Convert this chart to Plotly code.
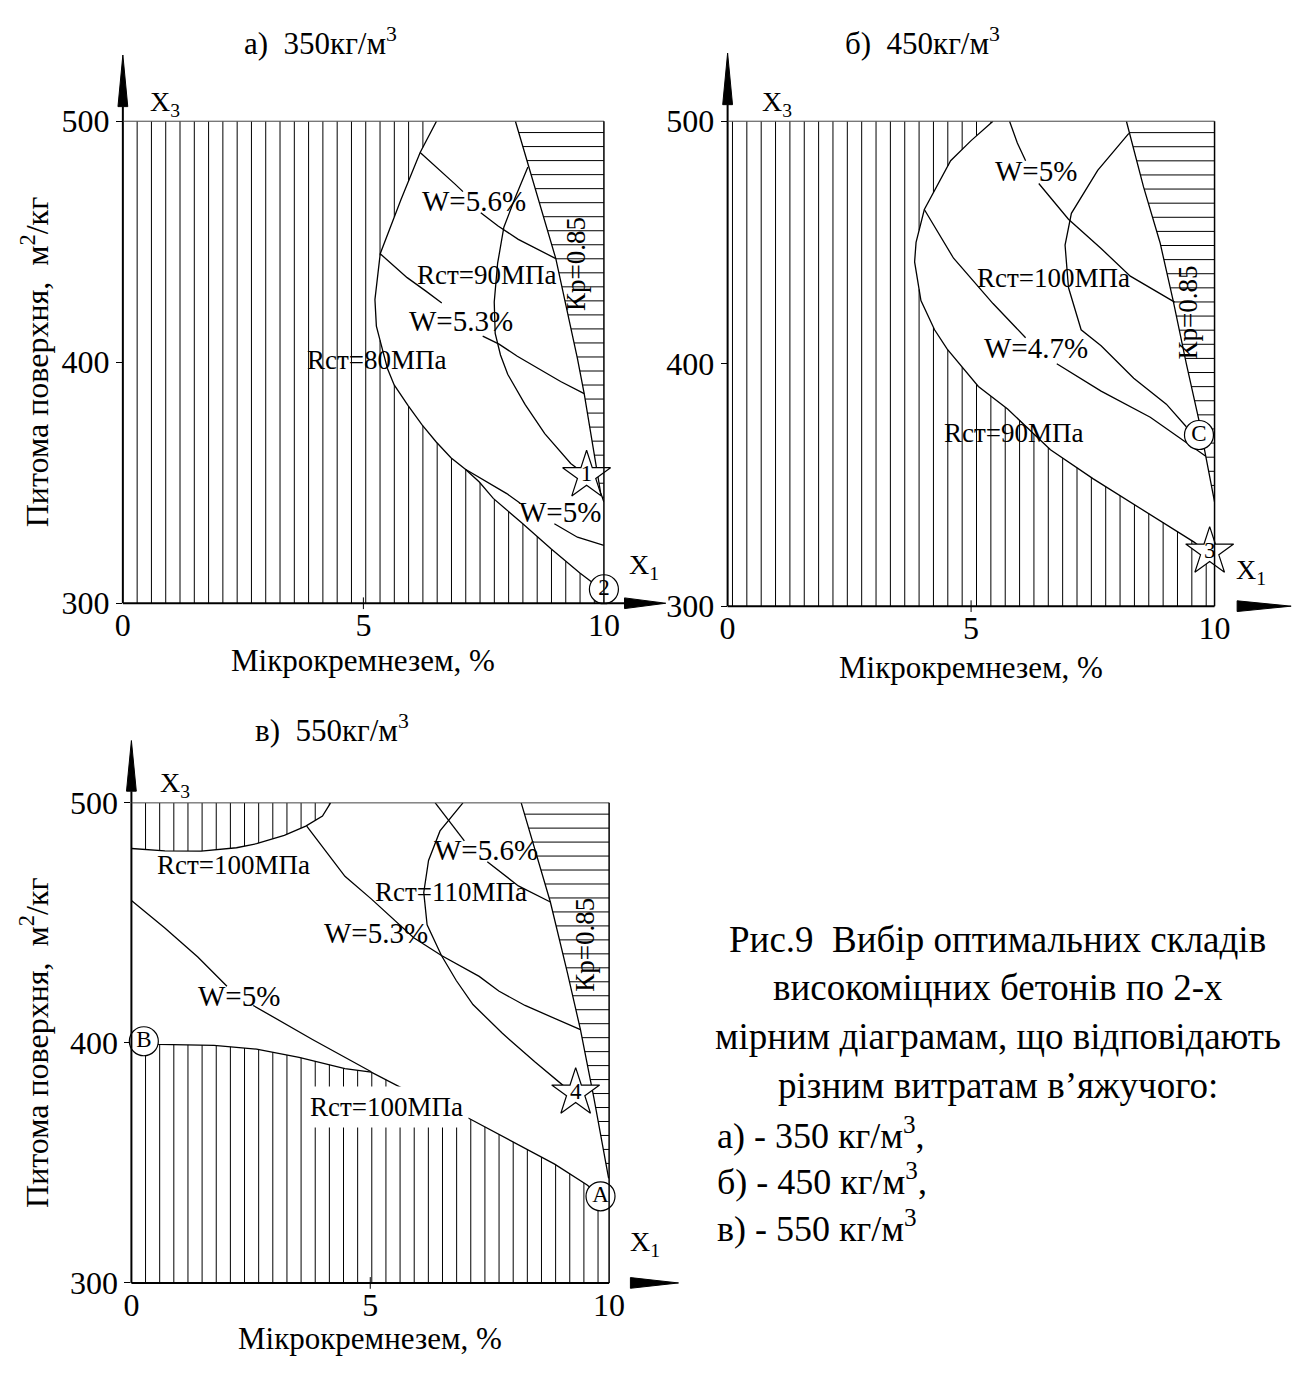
import plotly.graph_objects as go

W, H = 1314, 1373
FONT = "Liberation Serif, Times New Roman, serif"

# ======================= DATA =======================
# ---- panel а) 350 кг/м3 ----
a_r80_x = [6.52, 6.18, 5.78, 5.35, 5.24, 5.27, 5.36, 5.50, 5.64, 5.93, 6.22, 6.51, 6.82, 7.12, 7.41, 7.70, 8.29, 8.90, 9.50, 10.0]
a_r80_y = [500, 487, 467.4, 445, 426, 415, 408, 397.4, 390.6, 382, 374, 367, 360.4, 355.6, 350.3, 343.5, 333.4, 322.6, 312.5, 305]
a_kp_x = [8.16, 8.44, 9.0, 9.45, 9.59, 9.93, 10.0]
a_kp_y = [500, 481, 443, 401.5, 387, 346, 342]
a_r90_x = [8.42, 8.15, 7.92, 7.79, 7.72, 7.74, 7.85, 8.0, 8.36, 8.77, 9.31, 9.64]
a_r90_y = [481, 468, 456, 441, 425, 412, 403, 395, 382.5, 370.4, 358, 353]
a_w56_x = [6.18, 6.55, 6.90, 7.07, None, 7.44, 7.80, 8.22, 8.60, 9.0]
a_w56_y = [487, 480.5, 474, 470.8, None, 462, 456.5, 451, 447, 443]
a_w53_x = [5.35, 5.91, 6.30, 6.63, None, 7.48, 7.82, 8.20, 8.63, 9.10, 9.59]
a_w53_y = [445, 435.1, 429.5, 424.6, None, 410.8, 407.5, 402.5, 397.4, 392, 387]
a_w5_x = [7.12, 7.40, 7.68, 7.98, 8.26, None, 8.97, 9.45, 10.0]
a_w5_y = [355.6, 352.3, 349, 345.5, 341.5, None, 333, 327.4, 324]
a_pts = [("2", "circle", 10.0, 305.8), ("1", "star", 9.64, 353)]
a_labels = [("W=5.6%", 7.29, 466.9, 0), ("Rст=90МПа", 7.57, 436, 0), ("W=5.3%", 7.03, 417, 0),
            ("Rст=80МПа", 5.29, 401, 0), ("W=5%", 9.08, 337.8, 0), ("Кр=0.85", 9.43, 441, -90)]

# ---- panel б) 450 кг/м3 ----
b_r90_x = [5.45, 5.0, 4.58, 4.04, 3.87, 3.84, 3.97, 4.25, 4.51, 4.87, 5.15, 5.75, 6.63, 7.51, 8.10, 8.69, 9.58, 10.0]
b_r90_y = [500, 492, 483.7, 463.6, 450, 442, 426, 414, 406, 397.3, 390.6, 381.3, 364.5, 352.5, 345, 337.8, 326.4, 320]
b_kp_x = [8.19, 8.54, 8.88, 9.15, 9.42, 9.68, 9.82, 10.0]
b_kp_y = [500, 473, 450, 426, 400, 376.6, 361.8, 343]
b_r100_x = [8.24, 7.60, 7.06, 6.93, 7.00, 7.26, 7.67, 8.34, 9.01, 9.42]
b_r100_y = [495, 479.7, 462, 448.9, 431.4, 414, 407.4, 394, 383.3, 374]
b_w5_x = [5.79, 5.95, 6.12, None, 6.39, 7.0, 7.67, 8.27, 9.18]
b_w5_y = [500, 491, 483.7, None, 474.3, 459.6, 447.5, 436.1, 425.4]
b_w47_x = [4.04, 4.64, 5.45, 6.12, None, 6.76, 7.67, 8.68, 9.82]
b_w47_y = [463.6, 443.5, 424.8, 410.7, None, 400, 388.7, 377.9, 361.8]
b_pts = [("C", "circle", 9.68, 370.6), ("3", "star", 9.90, 322.4)]
b_labels = [("W=5%", 6.34, 479.3, 0), ("Rст=100МПа", 6.69, 435.4, 0), ("W=4.7%", 6.33, 406.4, 0),
            ("Rст=90МПа", 5.89, 371.6, 0), ("Кр=0.85", 9.45, 421, -90)]

# ---- panel в) 550 кг/м3 ----
c_top_x = [0, 0.7, 1.46, 2.2, 2.62, 3.2, 3.65, 4.0, 4.17]
c_top_y = [481, 480, 479.9, 481.3, 483, 486.5, 490.3, 494.5, 500]
c_low_x = [0, 0.57, 1.73, 2.62, 3.51, 4.47, 5.02, 6.05, 7.08, 7.97, 8.86, 9.54, 9.82]
c_low_y = [400, 399.4, 399, 397.4, 394, 389.3, 387.8, 377.2, 368.4, 359, 349.5, 340.8, 336.1]
c_kp_x = [8.16, 8.77, 9.13, 9.40, 9.68, 9.99]
c_kp_y = [500, 458.7, 429, 405.5, 377.2, 343.6]
c_r110_x = [6.94, 6.46, 6.22, 6.12, 6.19, 6.49, 6.80, 7.15, 7.76, 8.45, 9.06, 9.30]
c_r110_y = [500, 488.3, 476, 462.7, 449.2, 436.4, 426, 416, 404.1, 392, 381.9, 379.2]
c_w56_x = [6.36, 6.70, 6.97, None, 7.45, 8.10, 8.77]
c_w56_y = [500, 491, 484.2, None, 475.5, 465.4, 458.7]
c_w53_x = [3.67, 4.10, 4.47, 5.02, 5.45, 5.91, 6.49, 7.28, 7.69, 8.24, 9.40]
c_w53_y = [490.3, 479, 469.4, 460, 452, 443.8, 436.4, 427.7, 421.6, 415.6, 405.5]
c_w5_x = [0, 0.70, 1.39, 2.0, None, 2.55, 3.79, 5.02]
c_w5_y = [459.3, 447.9, 435.8, 423.6, None, 415.6, 401.4, 388]
c_pts = [("B", "circle", 0.26, 400.7), ("A", "circle", 9.82, 336.1), ("4", "star", 9.30, 379.2)]
c_labels = [("Rст=100МПа", 2.13, 474.1, 0), ("W=5.6%", 7.42, 480.2, 0), ("Rст=110МПа", 6.68, 462.7, 0),
            ("W=5.3%", 5.13, 445.9, 0), ("W=5%", 2.26, 419.6, 0), ("Кр=0.85", 9.49, 440.8, -90)]
c_boxed_label = ("Rст=100МПа", 5.35, 373.5)

titles = ["а)  350кг/м<sup>3</sup>", "б)  450кг/м<sup>3</sup>", "в)  550кг/м<sup>3</sup>"]
x_title = "Мікрокремнезем, %"
y_title = "Питома поверхня,  м<sup>2</sup>/кг"
x_ticks = [0, 5, 10]
y_ticks = [300, 400, 500]
caption_center = ["Рис.9  Вибір оптимальних складів", "високоміцних бетонів по 2-х",
                  "мірним діаграмам, що відповідають", "різним витратам в’яжучого:"]
caption_left = ["а) - 350 кг/м<sup>3</sup>,", "б) - 450 кг/м<sup>3</sup>,", "в) - 550 кг/м<sup>3</sup>"]

# ======================= helpers =======================
def vhatch(px, py, xs):
    X, Y = [], []
    n = len(px)
    for x in xs:
        ys = []
        for i in range(n):
            x1, y1 = px[i], py[i]
            x2, y2 = px[(i + 1) % n], py[(i + 1) % n]
            if (x1 <= x < x2) or (x2 <= x < x1):
                t = (x - x1) / (x2 - x1)
                ys.append(y1 + t * (y2 - y1))
        ys.sort()
        for j in range(0, len(ys) - 1, 2):
            X += [x, x, None]
            Y += [ys[j], ys[j + 1], None]
    return X, Y


def hhatch(px, py, ys):
    X, Y = [], []
    n = len(px)
    for y in ys:
        xs = []
        for i in range(n):
            x1, y1 = px[i], py[i]
            x2, y2 = px[(i + 1) % n], py[(i + 1) % n]
            if (y1 <= y < y2) or (y2 <= y < y1):
                t = (y - y1) / (y2 - y1)
                xs.append(x1 + t * (x2 - x1))
        xs.sort()
        for j in range(0, len(xs) - 1, 2):
            X += [xs[j], xs[j + 1], None]
            Y += [y, y, None]
    return X, Y


def P(px, py):
    return px / W, 1 - py / H


fig = go.Figure()

# panel boxes in pixels: left, right, top, bottom
boxes = [(117, 607, 106, 601), (733, 1229, 106, 604), (125.7, 612.3, 806, 1299)]
axes = [("x", "y"), ("x2", "y2"), ("x3", "y3")]

LINE = dict(color="black", width=1.3)
HATCH = dict(color="black", width=1)


def add_line(xs, ys, ax, line=LINE):
    fig.add_trace(go.Scatter(x=xs, y=ys, mode="lines", line=line, xaxis=ax[0], yaxis=ax[1],
                             hoverinfo="skip", showlegend=False))


hy = [495.3 - 5.82 * k for k in range(0, 40) if 495.3 - 5.82 * k > 300]

# ----- panel a -----
ax = axes[0]
X, Y = vhatch([0, 0] + a_r80_x + [10], [300, 500] + a_r80_y + [300], [0.297 * k for k in range(1, 34)])
add_line(X, Y, ax, HATCH)
X, Y = hhatch(a_kp_x + [10], a_kp_y + [500], hy)
add_line(X, Y, ax, HATCH)
for xs, ys in [(a_r80_x, a_r80_y), (a_kp_x, a_kp_y), (a_r90_x, a_r90_y), (a_w56_x, a_w56_y),
               (a_w53_x, a_w53_y), (a_w5_x, a_w5_y)]:
    add_line(xs, ys, ax)

# ----- panel b -----
ax = axes[1]
X, Y = vhatch([0, 0] + b_r90_x + [10], [300, 500] + b_r90_y + [300], [0.1 + 0.2948 * k for k in range(0, 34)])
add_line(X, Y, ax, HATCH)
X, Y = hhatch(b_kp_x + [10], b_kp_y + [500], hy)
add_line(X, Y, ax, HATCH)
for xs, ys in [(b_r90_x, b_r90_y), (b_kp_x, b_kp_y), (b_r100_x, b_r100_y), (b_w5_x, b_w5_y),
               (b_w47_x, b_w47_y)]:
    add_line(xs, ys, ax)

# ----- panel c -----
ax = axes[2]
vx = [0.296 * k for k in range(1, 34)]
X, Y = vhatch(c_top_x + [0], c_top_y + [500], vx)
add_line(X, Y, ax, HATCH)
X, Y = vhatch([0] + c_low_x + [10, 10], [300] + c_low_y + [335, 300], vx)
add_line(X, Y, ax, HATCH)
X, Y = hhatch(c_kp_x + [10, 10], c_kp_y + [343.6, 500], hy)
add_line(X, Y, ax, HATCH)
for xs, ys in [(c_top_x, c_top_y), (c_low_x, c_low_y), (c_kp_x, c_kp_y), (c_r110_x, c_r110_y),
               (c_w56_x, c_w56_y), (c_w53_x, c_w53_y), (c_w5_x, c_w5_y)]:
    add_line(xs, ys, ax)

# ----- point markers -----
for pts, ax in [(a_pts, axes[0]), (b_pts, axes[1]), (c_pts, axes[2])]:
    for txt, sym, x, y in pts:
        fig.add_trace(go.Scatter(
            x=[x], y=[y], mode="markers+text", text=[txt], textposition="middle center",
            textfont=dict(family=FONT, size=23, color="black"),
            marker=dict(symbol=sym, size=29 if sym == "circle" else 36, color="white",
                        line=dict(color="black", width=1.2)),
            cliponaxis=False, xaxis=ax[0], yaxis=ax[1], hoverinfo="skip", showlegend=False))

# ----- annotations -----
ann = []
for labels, ax in [(a_labels, axes[0]), (b_labels, axes[1]), (c_labels, axes[2])]:
    for txt, x, y, ang in labels:
        size = 29 if txt.startswith("W") else 27
        ann.append(dict(text=txt, x=x, y=y, xref=ax[0], yref=ax[1], showarrow=False,
                        textangle=ang, font=dict(family=FONT, size=size, color="black"),
                        xanchor="center", yanchor="middle"))
txt, x, y = c_boxed_label
ann.append(dict(text=txt, x=x, y=y, xref="x3", yref="y3", showarrow=False, bgcolor="white",
                borderpad=5, font=dict(family=FONT, size=27, color="black"),
                xanchor="center", yanchor="middle"))

title_pos = [(318, 24), (932, 24), (330, 730)]
xt_pos = [(362, 660), (981, 667), (369, 1356)]
yt_pos = [(27, 353), (None, None), (27, 1052)]
x3_pos = [(160, 88), (783, 88), (170, 787)]
x1_pos = [(648, 563), (1266, 568), (649, 1258)]
for i in range(3):
    px, py = P(*title_pos[i])
    ann.append(dict(text=titles[i], x=px, y=py, xref="paper", yref="paper", showarrow=False,
                    font=dict(family=FONT, size=31, color="black"), xanchor="center", yanchor="middle"))
    px, py = P(*xt_pos[i])
    ann.append(dict(text=x_title, x=px, y=py, xref="paper", yref="paper", showarrow=False,
                    font=dict(family=FONT, size=31, color="black"), xanchor="center", yanchor="middle"))
    if yt_pos[i][0] is not None:
        px, py = P(*yt_pos[i])
        ann.append(dict(text=y_title, x=px, y=py, xref="paper", yref="paper", showarrow=False,
                        textangle=-90, font=dict(family=FONT, size=32, color="black"),
                        xanchor="center", yanchor="middle"))
    px, py = P(*x3_pos[i])
    ann.append(dict(text="X<sub>3</sub>", x=px, y=py, xref="paper", yref="paper", showarrow=False,
                    font=dict(family=FONT, size=28, color="black"), xanchor="center", yanchor="middle"))
    px, py = P(*x1_pos[i])
    ann.append(dict(text="X<sub>1</sub>", x=px, y=py, xref="paper", yref="paper", showarrow=False,
                    font=dict(family=FONT, size=28, color="black"), xanchor="center", yanchor="middle"))

cap_y = [946, 996, 1046, 1096]
for t, yy in zip(caption_center, cap_y):
    px, py = P(1008, yy)
    ann.append(dict(text=t, x=px, y=py, xref="paper", yref="paper", showarrow=False,
                    font=dict(family=FONT, size=37, color="black"), xanchor="center", yanchor="middle"))
for t, yy in zip(caption_left, [1146, 1193, 1241]):
    px, py = P(720, yy)
    ann.append(dict(text=t, x=px, y=py, xref="paper", yref="paper", showarrow=False,
                    font=dict(family=FONT, size=36, color="black"), xanchor="left", yanchor="middle"))

# ----- frame shapes (pixel geometry -> paper) -----
shapes = []
arrow_y = [(38, 91), (36, 89), (742, 794)]
arrow_x = [(628, 670, True), (1252, 1307, False), (634, 683, False)]


def pline(x0, y0, x1, y1, w=2, c="black"):
    a0, b0 = P(x0, y0)
    a1, b1 = P(x1, y1)
    shapes.append(dict(type="line", xref="paper", yref="paper", x0=a0, y0=b0, x1=a1, y1=b1,
                       line=dict(color=c, width=w)))


def ptri(pts):
    s = ""
    for k, (x, y) in enumerate(pts):
        a, b = P(x, y)
        s += ("M" if k == 0 else "L") + f"{a:.6f},{b:.6f} "
    s += "Z"
    shapes.append(dict(type="path", xref="paper", yref="paper", path=s, fillcolor="black",
                       line=dict(color="black", width=1)))


for i, (L, R, T, B) in enumerate(boxes):
    tip, base = arrow_y[i]
    pline(L, B, L, base, 2)
    ptri([(L - 5, base), (L + 5, base), (L, tip)])
    xa0, xa1, ext = arrow_x[i]
    pline(L, B, xa0 if ext else R, B, 2)
    ptri([(xa0, B - 5.5), (xa0, B + 5.5), (xa1, B)])
    pline(L, T, R, T, 1, "#444")
    pline(R, T, R, B, 1.5)
    x5 = L + (R - L) * 0.5
    pline(x5, B - 6, x5, B + 6, 1)

layout = dict(width=W, height=H, margin=dict(l=0, r=0, t=0, b=0), paper_bgcolor="white",
              plot_bgcolor="white", showlegend=False, annotations=ann, shapes=shapes)
for i, (L, R, T, B) in enumerate(boxes):
    sx = "" if i == 0 else str(i + 1)
    layout["xaxis" + sx] = dict(domain=[L / W, R / W], anchor="y" + sx, range=[0, 10],
                                showgrid=False, zeroline=False, showline=False,
                                tickvals=x_ticks, ticktext=[str(v) for v in x_ticks], ticks="",
                                tickfont=dict(family=FONT, size=32, color="black"))
    layout["yaxis" + sx] = dict(domain=[1 - B / H, 1 - T / H], anchor="x" + sx, range=[300, 500],
                                showgrid=False, zeroline=False, showline=False,
                                tickvals=y_ticks, ticktext=[str(v) for v in y_ticks], ticks="outside",
                                ticklen=6, tickwidth=1, tickcolor="black",
                                tickfont=dict(family=FONT, size=32, color="black"))
fig.update_layout(**layout)
fig.write_html("out.html")
